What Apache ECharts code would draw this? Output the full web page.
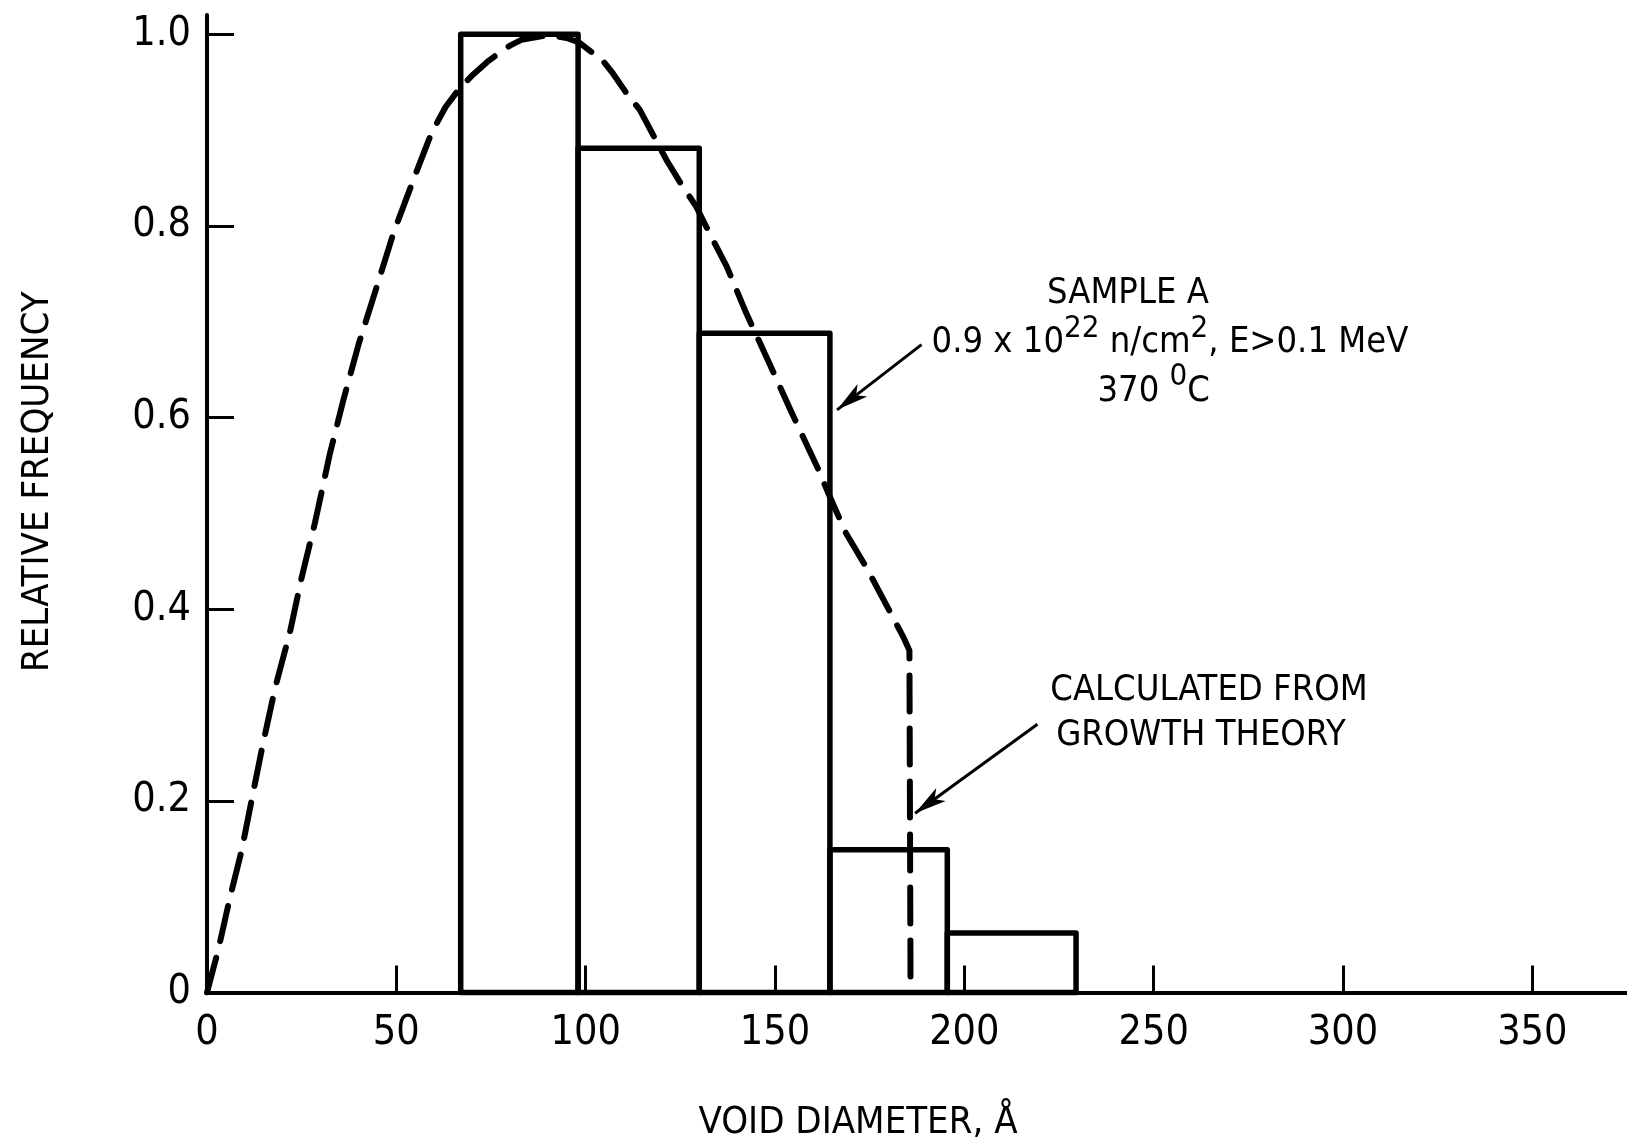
<!DOCTYPE html>
<html>
<head>
<meta charset="utf-8">
<script src="https://cdn.jsdelivr.net/npm/echarts@6/dist/echarts.min.js"></script>
<style>
html,body{margin:0;padding:0;background:#fff;}
#chart{width:1627px;height:1148px;}
</style>
</head>
<body>
<div id="chart"></div>
<script>
// ---- data ----
const binEdges = [67, 98, 130, 164.5, 195.5, 229.5];
const binHeights = [1.0, 0.881, 0.688, 0.149, 0.062];
const curveX = [0, 3, 6, 9.2, 11.8, 14.8, 18, 21.9, 25, 28.5, 32.5, 36, 40, 44.4, 49.2, 54.5, 59.3, 63, 66.8, 70.3, 74, 77.3, 80, 83, 90, 95, 98.4, 104.6, 107.2, 110.5, 114.3, 121.3, 125, 129.2, 133, 137.2, 142.4, 148.1, 154.3, 161.3, 164.4, 168.8, 174.5, 182, 184, 185.5, 185.8];
const curveY = [0, 0.045, 0.098, 0.149, 0.201, 0.26, 0.318, 0.376, 0.433, 0.49, 0.563, 0.618, 0.676, 0.731, 0.792, 0.848, 0.897, 0.924, 0.944, 0.958, 0.971, 0.981, 0.988, 0.994, 0.999, 0.996, 0.991, 0.972, 0.959, 0.94, 0.921, 0.869, 0.845, 0.82, 0.79, 0.758, 0.709, 0.66, 0.606, 0.547, 0.518, 0.479, 0.441, 0.385, 0.37, 0.357, 0];
const xTickValues = [0, 50, 100, 150, 200, 250, 300, 350];
const xTickLabels = ['0', '50', '100', '150', '200', '250', '300', '350'];
const yTickValues = [0, 0.2, 0.4, 0.6, 0.8, 1.0];
const yTickLabels = ['0', '0.2', '0.4', '0.6', '0.8', '1.0'];
const xTitle = 'VOID DIAMETER, Å';
const yTitle = 'RELATIVE FREQUENCY';
// arrows: [tailX, tailY, tipX, tipY] in data units
const arrowSample = [188.7, 0.676, 166.4, 0.608];
const arrowTheory = [219.3, 0.280, 187.0, 0.187];
// annotation anchor points (data units)
const notePos = {
  sample: [243.2, 0.736],
  flux: [254.3, 0.684],
  temp: [250.0, 0.633],
  calc1: [264.6, 0.321],
  calc2: [262.5, 0.274]
};

const FONT = "'Liberation Sans Narrow', 'DejaVu Sans Condensed', 'Roboto Condensed', 'Open Sans', sans-serif";

const histData = binHeights.map((h, i) => [binEdges[i], binEdges[i + 1], h]);
const curveData = curveX.map((x, i) => [x, curveY[i]]);

const chart = echarts.init(document.getElementById('chart'), null, {renderer: 'canvas'});

const option = {
  animation: false,
  backgroundColor: '#fff',
  grid: {left: 207, right: 0, top: 15, bottom: 155.5, containLabel: false},
  xAxis: {
    type: 'value', min: 0, max: 375,
    name: xTitle, nameLocation: 'middle', nameGap: 112,
    nameTextStyle: {fontFamily: FONT, fontSize: 38, color: '#000', padding: [0, 118, 0, 0]},
    axisLine: {show: true, lineStyle: {color: '#000', width: 4}},
    axisTick: {show: true, inside: true, length: 27, lineStyle: {color: '#000', width: 3}, customValues: xTickValues},
    axisLabel: {show: true, customValues: xTickValues, margin: 20, fontFamily: FONT, fontSize: 41, color: '#000',
      formatter: v => xTickLabels[xTickValues.indexOf(v)] ?? ''},
    splitLine: {show: false}
  },
  yAxis: {
    type: 'value', min: 0, max: 1.02,
    name: yTitle, nameLocation: 'middle', nameGap: 150, nameRotate: 90,
    nameTextStyle: {fontFamily: FONT, fontSize: 38, color: '#000', padding: [0, 0, 0, 44]},
    axisLine: {show: true, lineStyle: {color: '#000', width: 4}},
    axisTick: {show: true, inside: true, length: 27, lineStyle: {color: '#000', width: 3}, customValues: yTickValues},
    axisLabel: {show: true, customValues: yTickValues, margin: 16, fontFamily: FONT, fontSize: 41, color: '#000',
      formatter: v => {
        const i = yTickValues.findIndex(t => Math.abs(t - v) < 1e-6);
        return i >= 0 ? yTickLabels[i] : '';
      }},
    splitLine: {show: false}
  },
  series: [
    {
      type: 'custom',
      name: 'Sample A',
      data: histData,
      encode: {x: [0, 1], y: 2},
      clip: false,
      renderItem: (params, api) => {
        const p0 = api.coord([api.value(0), api.value(2)]);
        const p1 = api.coord([api.value(1), 0]);
        return {
          type: 'rect',
          shape: {x: p0[0], y: p0[1], width: p1[0] - p0[0], height: p1[1] - p0[1]},
          style: {fill: 'none', stroke: '#000', lineWidth: 5.5, lineJoin: 'round'}
        };
      }
    },
    {
      type: 'line',
      name: 'Calculated from growth theory',
      data: curveData,
      showSymbol: false,
      smooth: false,
      lineStyle: {color: '#000', width: 6, type: [36, 17], cap: 'round'},
      markLine: {
        silent: true,
        symbol: ['none', 'arrow'],
        symbolSize: [12, 32],
        label: {show: false},
        lineStyle: {color: '#000', width: 3, type: 'solid'},
        data: [
          [{coord: [arrowSample[0], arrowSample[1]]}, {coord: [arrowSample[2], arrowSample[3]]}],
          [{coord: [arrowTheory[0], arrowTheory[1]]}, {coord: [arrowTheory[2], arrowTheory[3]]}]
        ]
      }
    }
  ]
};
chart.setOption(option);

const px = p => chart.convertToPixel({gridIndex: 0}, p);
const richBase = {
  n: {fontFamily: FONT, fontSize: 36, color: '#000', lineHeight: 48, verticalAlign: 'bottom'},
  s: {fontFamily: FONT, fontSize: 31, color: '#000', lineHeight: 48, verticalAlign: 'top'}
};
function note(key, text) {
  const p = px(notePos[key]);
  return {
    type: 'text', x: p[0], y: p[1],
    style: {text: text, rich: richBase, align: 'center', verticalAlign: 'middle', fill: '#000', font: '36px ' + FONT}
  };
}
chart.setOption({
  graphic: [
    note('sample', '{n|SAMPLE A}'),
    note('flux', '{n|0.9 x 10}{s|22}{n| n/cm}{s|2}{n|, E>0.1 MeV}'),
    note('temp', '{n|370 }{s|0}{n|C}'),
    note('calc1', '{n|CALCULATED FROM}'),
    note('calc2', '{n|GROWTH THEORY}')
  ]
});
</script>
</body>
</html>
